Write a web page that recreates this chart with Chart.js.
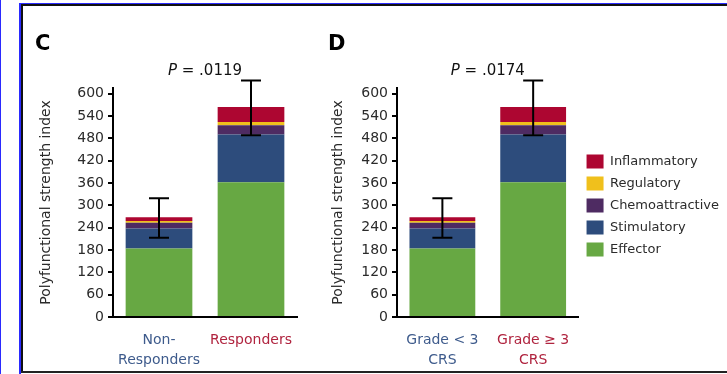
<!DOCTYPE html>
<html>
<head>
<meta charset="utf-8">
<script src="https://cdn.jsdelivr.net/npm/chart.js@4.4.0/dist/chart.umd.min.js"></script>
<style>
    html, body { margin: 0; padding: 0; background: #fff; width: 727px; height: 374px; overflow: hidden; position: relative; }
    .line { position: absolute; }
    canvas { position: absolute; }
    #chartC { left: 23px; top: 6px; }
    #chartD { left: 300px; top: 6px; }
</style>
</head>
<body>
<div class="line" style="left:0;top:0;width:1px;height:374px;background:#2a2aff"></div>
<div class="line" style="left:19px;top:3px;width:708px;height:1px;background:#2a2aff"></div>
<div class="line" style="left:19px;top:3px;width:2px;height:371px;background:#2a2aff"></div>
<div class="line" style="left:21px;top:4px;width:706px;height:2px;background:#111"></div>
<div class="line" style="left:21px;top:4px;width:2px;height:369px;background:#111"></div>
<div class="line" style="left:21px;top:371px;width:706px;height:2px;background:#222"></div>

<canvas id="chartC" width="277" height="364"></canvas>
<canvas id="chartD" width="440" height="364"></canvas>

<script>
// categories
const labelsC = [['Non-', 'Responders'], 'Responders'];
const labelsD = [['Grade < 3', 'CRS'], ['Grade \u2265 3', 'CRS']];
const labelColors = ['#3e5b8c', '#b0243f'];

// stacked components (polyfunctional strength index)
const effector = [184, 362];
const stimulatory = [54, 128];
const chemoattractive = [15, 25];
const regulatory = [5, 9];
const inflammatory = [10, 40];

// error bars
const errLow = [213, 488];
const errHigh = [319, 635];

// y axis
const yMin = 0;
const yMax = 615;
const yStep = 60;

const palette = {
    effector: '#67a843',
    stimulatory: '#2d4c7c',
    chemoattractive: '#4e2b62',
    regulatory: '#f0c01c',
    inflammatory: '#ad0631',
    text: '#2b2b2b'
};

const FONT = '"DejaVu Sans", sans-serif';

function makeDatasets() {
    return [
        { label: 'Effector', data: effector, backgroundColor: palette.effector },
        { label: 'Stimulatory', data: stimulatory, backgroundColor: palette.stimulatory },
        { label: 'Chemoattractive', data: chemoattractive, backgroundColor: palette.chemoattractive },
        { label: 'Regulatory', data: regulatory, backgroundColor: palette.regulatory },
        { label: 'Inflammatory', data: inflammatory, backgroundColor: palette.inflammatory }
    ];
}

// error bars, p value and panel letter
const annotate = {
    id: 'annotate',
    afterDatasetsDraw(chart, args, opts) {
        const { ctx, chartArea, scales: { x, y } } = chart;
        ctx.save();
        ctx.strokeStyle = '#000';
        ctx.lineWidth = 2;
        errLow.forEach((lo, i) => {
            const px = x.getPixelForValue(i);
            const top = y.getPixelForValue(errHigh[i]);
            const bot = y.getPixelForValue(lo);
            ctx.beginPath();
            ctx.moveTo(px, top); ctx.lineTo(px, bot);
            ctx.moveTo(px - 10, top); ctx.lineTo(px + 10, top);
            ctx.moveTo(px - 10, bot); ctx.lineTo(px + 10, bot);
            ctx.stroke();
        });

        // P value
        const cx = (x.getPixelForValue(0) + x.getPixelForValue(1)) / 2;
        const cy = chartArea.top - 17;
        ctx.fillStyle = '#111';
        ctx.textBaseline = 'middle';
        ctx.font = 'italic 15px ' + FONT;
        const wP = ctx.measureText('P').width;
        ctx.font = '15px ' + FONT;
        const rest = ' = ' + opts.p;
        const wR = ctx.measureText(rest).width;
        let sx = cx - (wP + wR) / 2;
        ctx.font = 'italic 15px ' + FONT;
        ctx.fillText('P', sx, cy);
        ctx.font = '15px ' + FONT;
        ctx.fillText(rest, sx + wP, cy);

        // panel letter
        ctx.font = 'bold 21px ' + FONT;
        ctx.textBaseline = 'alphabetic';
        ctx.fillStyle = '#000';
        ctx.fillText(opts.letter, opts.letterX, 44);
        ctx.restore();
    }
};

function buildOptions(cfg) {
    return {
        responsive: false,
        animation: false,
        layout: { padding: { left: cfg.padLeft, top: 82, right: cfg.padRight, bottom: 0 } },
        plugins: {
            legend: cfg.legend,
            tooltip: { enabled: false },
            annotate: { p: cfg.p, letter: cfg.letter, letterX: cfg.letterX }
        },
        datasets: { bar: { categoryPercentage: 0.725, barPercentage: 1 } },
        scales: {
            x: {
                stacked: true,
                grid: { display: false },
                border: { display: true, color: '#000', width: 2 },
                ticks: {
                    padding: 5,
                    color: (c) => labelColors[c.index],
                    font: { family: FONT, size: 14, lineHeight: 20 / 14 }
                },
                afterFit: (s) => { s.height = 53; }
            },
            y: {
                stacked: true,
                min: yMin,
                max: yMax,
                grid: { drawOnChartArea: false, drawTicks: true, tickLength: 5, color: '#000', lineWidth: 2 },
                border: { display: true, color: '#000', width: 2 },
                ticks: {
                    stepSize: yStep,
                    includeBounds: false,
                    padding: 4,
                    color: palette.text,
                    font: { family: FONT, size: 14 }
                },
                title: {
                    display: true,
                    text: 'Polyfunctional strength index',
                    color: palette.text,
                    padding: { top: 0, bottom: 0 },
                    font: { family: FONT, size: 14 }
                },
                afterFit: (s) => { s.width = cfg.yWidth; }
            }
        }
    };
}

new Chart(document.getElementById('chartC'), {
    type: 'bar',
    data: { labels: labelsC, datasets: makeDatasets() },
    options: buildOptions({ padLeft: 15, padRight: 3, yWidth: 75, p: '.0119', letter: 'C', letterX: 12, legend: { display: false } }),
    plugins: [annotate]
});

new Chart(document.getElementById('chartD'), {
    type: 'bar',
    data: { labels: labelsD, datasets: makeDatasets() },
    options: buildOptions({
        padLeft: 30, padRight: 11, yWidth: 67, p: '.0174', letter: 'D', letterX: 28,
        legend: {
            display: true,
            position: 'right',
            fullSize: false,
            reverse: true,
            maxWidth: 200,
            // blank title only nudges the list down a little
            title: { display: true, text: ' ', padding: 0, font: { size: 5 } },
            labels: {
                boxWidth: 17,
                boxHeight: 14,
                padding: 8,
                color: palette.text,
                font: { family: FONT, size: 13 }
            }
        }
    }),
    plugins: [annotate]
});
</script>
</body>
</html>
